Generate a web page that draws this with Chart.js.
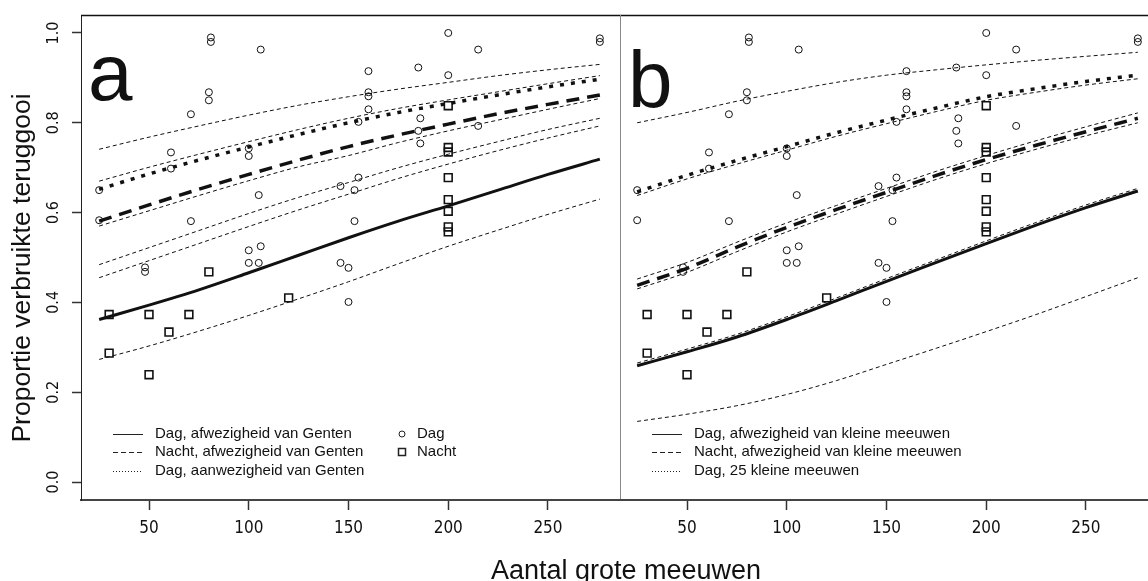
<!DOCTYPE html>
<html>
<head>
<meta charset="utf-8">
<script src="https://cdn.jsdelivr.net/npm/chart.js@4.4.1/dist/chart.umd.min.js"></script>
<style>
  html, body { margin: 0; padding: 0; background: #fff; }
  #wrap { position: relative; width: 1148px; height: 581px; overflow: hidden; }
  #chartA { position: absolute; left: 0; top: 0; }
  #chartB { position: absolute; left: 620px; top: 0; }
  #xtitle { position: absolute; left: 0; width: 1252px; top: 557px; text-align: center;
            font: 27px 'Liberation Sans', Arial, sans-serif; line-height: 27px; color: #111; }
</style>
</head>
<body>
<div id="wrap">
  <canvas id="chartA" width="621" height="581"></canvas>
  <canvas id="chartB" width="528" height="581"></canvas>
  <div id="xtitle">Aantal grote meeuwen</div>
</div>
<script>
// x positions where the fitted curves were read
const xGrid = [25, 50, 75, 100, 125, 150, 175, 200, 225, 250, 276];
const xTicks = [50, 100, 150, 200, 250];
const yTicks = [0, 0.2, 0.4, 0.6, 0.8, 1.0];
const yTickLabels = ['0.0', '0.2', '0.4', '0.6', '0.8', '1.0'];

// panel a: fitted lines
const aDagAfw    = [0.362, 0.394, 0.428, 0.466, 0.505, 0.544, 0.581, 0.615, 0.650, 0.685, 0.719];
const aDagAfwLo  = [0.273, 0.303, 0.336, 0.371, 0.408, 0.446, 0.486, 0.525, 0.561, 0.596, 0.630];
const aDagAfwHi  = [0.455, 0.493, 0.531, 0.569, 0.606, 0.641, 0.676, 0.708, 0.738, 0.766, 0.793];
const aNacht     = [0.581, 0.617, 0.652, 0.685, 0.717, 0.747, 0.773, 0.797, 0.820, 0.841, 0.862];
const aNachtLo   = [0.570, 0.604, 0.638, 0.671, 0.702, 0.727, 0.756, 0.782, 0.806, 0.830, 0.854];
const aNachtHi   = [0.484, 0.522, 0.560, 0.598, 0.634, 0.667, 0.700, 0.730, 0.758, 0.785, 0.810];
const aDagAanw   = [0.652, 0.686, 0.717, 0.746, 0.774, 0.800, 0.823, 0.843, 0.862, 0.880, 0.897];
const aDagAanwLo = [0.670, 0.701, 0.730, 0.758, 0.785, 0.810, 0.832, 0.851, 0.869, 0.887, 0.905];
const aDagAanwHi = [0.741, 0.768, 0.793, 0.817, 0.839, 0.858, 0.875, 0.890, 0.905, 0.918, 0.930];

// panel b: fitted lines
const bDagAfw    = [0.259, 0.290, 0.323, 0.362, 0.404, 0.447, 0.489, 0.531, 0.572, 0.611, 0.648];
const bDagAfwHi  = [0.265, 0.296, 0.329, 0.368, 0.410, 0.453, 0.495, 0.537, 0.578, 0.617, 0.654];
const bDagAfwLo  = [0.135, 0.151, 0.170, 0.195, 0.226, 0.262, 0.298, 0.335, 0.373, 0.413, 0.455];
const bNacht     = [0.438, 0.476, 0.523, 0.567, 0.607, 0.645, 0.683, 0.718, 0.750, 0.780, 0.810];
const bNachtHi   = [0.452, 0.489, 0.534, 0.577, 0.616, 0.654, 0.692, 0.727, 0.760, 0.791, 0.822];
const bNachtLo   = [0.430, 0.467, 0.513, 0.557, 0.597, 0.636, 0.674, 0.709, 0.741, 0.771, 0.800];
const bDag25     = [0.646, 0.683, 0.716, 0.747, 0.778, 0.806, 0.833, 0.858, 0.876, 0.892, 0.906];
const bDag25Lo   = [0.638, 0.675, 0.708, 0.739, 0.770, 0.798, 0.825, 0.850, 0.868, 0.884, 0.898];
const bDag25Hi   = [0.800, 0.823, 0.848, 0.870, 0.890, 0.906, 0.918, 0.929, 0.939, 0.948, 0.957];

// observations (same in both panels)
const dagX = [81, 81, 106, 80, 80, 71, 61, 61, 25, 100, 100, 105, 71, 25, 146, 153, 153, 100, 106, 100, 105,
              48, 48, 146, 150, 150, 200, 215, 160, 185, 200, 160, 160, 160, 155, 186, 185, 186, 215, 276, 276, 155];
const dagY = [0.99, 0.98, 0.963, 0.868, 0.85, 0.819, 0.734, 0.698, 0.65, 0.743, 0.726, 0.639, 0.581, 0.583, 0.659,
              0.65, 0.581, 0.516, 0.525, 0.488, 0.488, 0.478, 0.468, 0.488, 0.477, 0.401, 1.0, 0.963, 0.915, 0.923,
              0.906, 0.868, 0.859, 0.83, 0.802, 0.81, 0.782, 0.754, 0.793, 0.988, 0.98, 0.678];
const nachtX = [200, 200, 200, 200, 200, 200, 200, 200, 30, 50, 70, 80, 60, 30, 50, 120];
const nachtY = [0.838, 0.745, 0.735, 0.678, 0.629, 0.603, 0.568, 0.557, 0.373, 0.373, 0.373, 0.468, 0.334, 0.287, 0.239, 0.41];

const legendA = ['Dag, afwezigheid van Genten', 'Nacht, afwezigheid van Genten', 'Dag, aanwezigheid van Genten'];
const legendB = ['Dag, afwezigheid van kleine meeuwen', 'Nacht, afwezigheid van kleine meeuwen', 'Dag, 25 kleine meeuwen'];
const legendPts = ['Dag', 'Nacht'];

const SANS = "'Liberation Sans', Arial, sans-serif";
const NARROW = "'Liberation Sans Narrow', 'DejaVu Sans Condensed', Arial, sans-serif";
const INK = '#111';

function curve(ys, width, dash) {
  return {
    data: xGrid.map((x, i) => ({ x: x, y: ys[i] })),
    showLine: true,
    borderColor: INK,
    borderWidth: width,
    borderDash: dash,
    pointRadius: 0,
    pointHoverRadius: 0,
    cubicInterpolationMode: 'monotone',
    fill: false
  };
}
function thin(ys) { return curve(ys, 1, [4, 3]); }

function points(xs, ys, style, r, bw) {
  return {
    data: xs.map((x, i) => ({ x: x, y: ys[i] })),
    showLine: false,
    pointStyle: style,
    pointRadius: r,
    pointBorderWidth: bw,
    borderColor: INK,
    backgroundColor: 'rgba(0,0,0,0)'
  };
}

function drawLegend(ctx, x0, labels, withPts) {
  const rows = [434, 452, 471];
  const dashes = [[], [5, 3], [1, 2]];
  ctx.save();
  ctx.font = '15px ' + SANS;
  ctx.fillStyle = INK;
  ctx.textBaseline = 'middle';
  ctx.textAlign = 'left';
  labels.forEach((lab, i) => {
    ctx.beginPath();
    ctx.setLineDash(dashes[i]);
    ctx.lineWidth = 1;
    ctx.strokeStyle = '#222';
    ctx.moveTo(x0, rows[i] + 0.5);
    ctx.lineTo(x0 + 30, rows[i] + 0.5);
    ctx.stroke();
    ctx.fillText(lab, x0 + 42, rows[i]);
  });
  ctx.setLineDash([]);
  if (withPts) {
    ctx.beginPath();
    ctx.arc(402, rows[0], 3, 0, Math.PI * 2);
    ctx.stroke();
    ctx.lineWidth = 1.5;
    ctx.strokeRect(398.5, rows[1] - 3.5, 7, 7);
    legendPts.forEach((lab, i) => ctx.fillText(lab, 417, rows[i]));
  }
  ctx.restore();
}

function xScale(min, max) {
  return {
    type: 'linear', min: min, max: max,
    afterFit: s => { s.height = 81; s.paddingLeft = 0; s.paddingRight = 0; },
    afterBuildTicks: s => { s.ticks = xTicks.map(v => ({ value: v })); },
    ticks: { font: { family: NARROW, size: 17 }, color: INK, padding: 8, maxRotation: 0, autoSkip: false },
    grid: { drawOnChartArea: false, drawTicks: true, tickLength: 10, tickColor: '#333', tickWidth: 1.5 },
    border: { display: true, color: '#444', width: 2 }
  };
}

const panelA = {
  id: 'panelA',
  afterDraw(chart) {
    const ctx = chart.ctx, ys = chart.scales.y, ca = chart.chartArea;
    ctx.save();
    // frame: top line and divider
    ctx.strokeStyle = '#111'; ctx.lineWidth = 1.5;
    ctx.beginPath(); ctx.moveTo(ca.left, ca.top + 0.5); ctx.lineTo(ca.right + 1, ca.top + 0.5); ctx.stroke();
    ctx.strokeStyle = '#888'; ctx.lineWidth = 1;
    ctx.beginPath(); ctx.moveTo(ca.right + 0.5, ca.top); ctx.lineTo(ca.right + 0.5, ca.bottom); ctx.stroke();
    // y tick labels, parallel to the axis
    ctx.fillStyle = INK;
    ctx.font = '16px ' + NARROW;
    ctx.textAlign = 'center'; ctx.textBaseline = 'middle';
    yTicks.forEach((v, i) => {
      ctx.save();
      ctx.translate(54, ys.getPixelForValue(v));
      ctx.rotate(-Math.PI / 2);
      ctx.fillText(yTickLabels[i], 0, 0);
      ctx.restore();
    });
    // y title
    ctx.save();
    ctx.font = '26.5px ' + SANS;
    ctx.translate(23, 268);
    ctx.rotate(-Math.PI / 2);
    ctx.fillText('Proportie verbruikte teruggooi', 0, 0);
    ctx.restore();
    // panel letter
    ctx.font = '80px ' + SANS;
    ctx.textAlign = 'left'; ctx.textBaseline = 'alphabetic';
    ctx.fillText('a', 88, 100);
    ctx.restore();
    drawLegend(ctx, 113, legendA, true);
  }
};

const panelB = {
  id: 'panelB',
  afterDraw(chart) {
    const ctx = chart.ctx, ca = chart.chartArea;
    ctx.save();
    ctx.strokeStyle = '#111'; ctx.lineWidth = 1.5;
    ctx.beginPath(); ctx.moveTo(ca.left, ca.top + 0.5); ctx.lineTo(ca.right, ca.top + 0.5); ctx.stroke();
    ctx.fillStyle = INK;
    ctx.font = '80px ' + SANS;
    ctx.textAlign = 'left'; ctx.textBaseline = 'alphabetic';
    ctx.fillText('b', 8, 107);
    ctx.restore();
    drawLegend(ctx, 652 - 620, legendB, false);
  }
};

const yScaleA = {
  min: -0.04, max: 1.04,
  afterFit: s => { s.width = 81; s.paddingTop = 0; s.paddingBottom = 0; },
  afterBuildTicks: s => { s.ticks = yTicks.map(v => ({ value: v })); },
  ticks: { display: false },
  grid: { drawOnChartArea: false, drawTicks: true, tickLength: 9, tickColor: '#333', tickWidth: 1.5 },
  border: { display: true, color: '#222', width: 1 }
};

const common = {
  responsive: false,
  animation: false,
  events: [],
  plugins: { legend: { display: false }, tooltip: { enabled: false } }
};

new Chart(document.getElementById('chartA'), {
  type: 'scatter',
  data: {
    datasets: [
      curve(aDagAfw, 3, []),
      thin(aDagAfwLo), thin(aDagAfwHi),
      curve(aNacht, 3.5, [13, 8]),
      thin(aNachtLo), thin(aNachtHi),
      curve(aDagAanw, 3.5, [4, 7]),
      thin(aDagAanwLo), thin(aDagAanwHi),
      points(dagX, dagY, 'circle', 3.5, 1),
      points(nachtX, nachtY, 'rect', 5.5, 1.6)
    ]
  },
  options: Object.assign({}, common, {
    layout: { autoPadding: false, padding: { top: 15, right: 1, left: 0, bottom: 0 } },
    scales: { x: xScale(15.9, 286.1), y: yScaleA }
  }),
  plugins: [panelA]
});

new Chart(document.getElementById('chartB'), {
  type: 'scatter',
  data: {
    datasets: [
      curve(bDagAfw, 3, []),
      thin(bDagAfwHi), thin(bDagAfwLo),
      curve(bNacht, 3.5, [13, 8]),
      thin(bNachtLo), thin(bNachtHi),
      curve(bDag25, 3.5, [4, 7]),
      thin(bDag25Lo), thin(bDag25Hi),
      points(dagX, dagY, 'circle', 3.5, 1),
      points(nachtX, nachtY, 'rect', 5.5, 1.6)
    ]
  },
  options: Object.assign({}, common, {
    layout: { autoPadding: false, padding: { top: 15, right: 0, left: 1, bottom: 0 } },
    scales: {
      x: xScale(16.9, 281.1),
      y: { display: false, min: -0.04, max: 1.04 }
    }
  }),
  plugins: [panelB]
});
</script>
</body>
</html>
